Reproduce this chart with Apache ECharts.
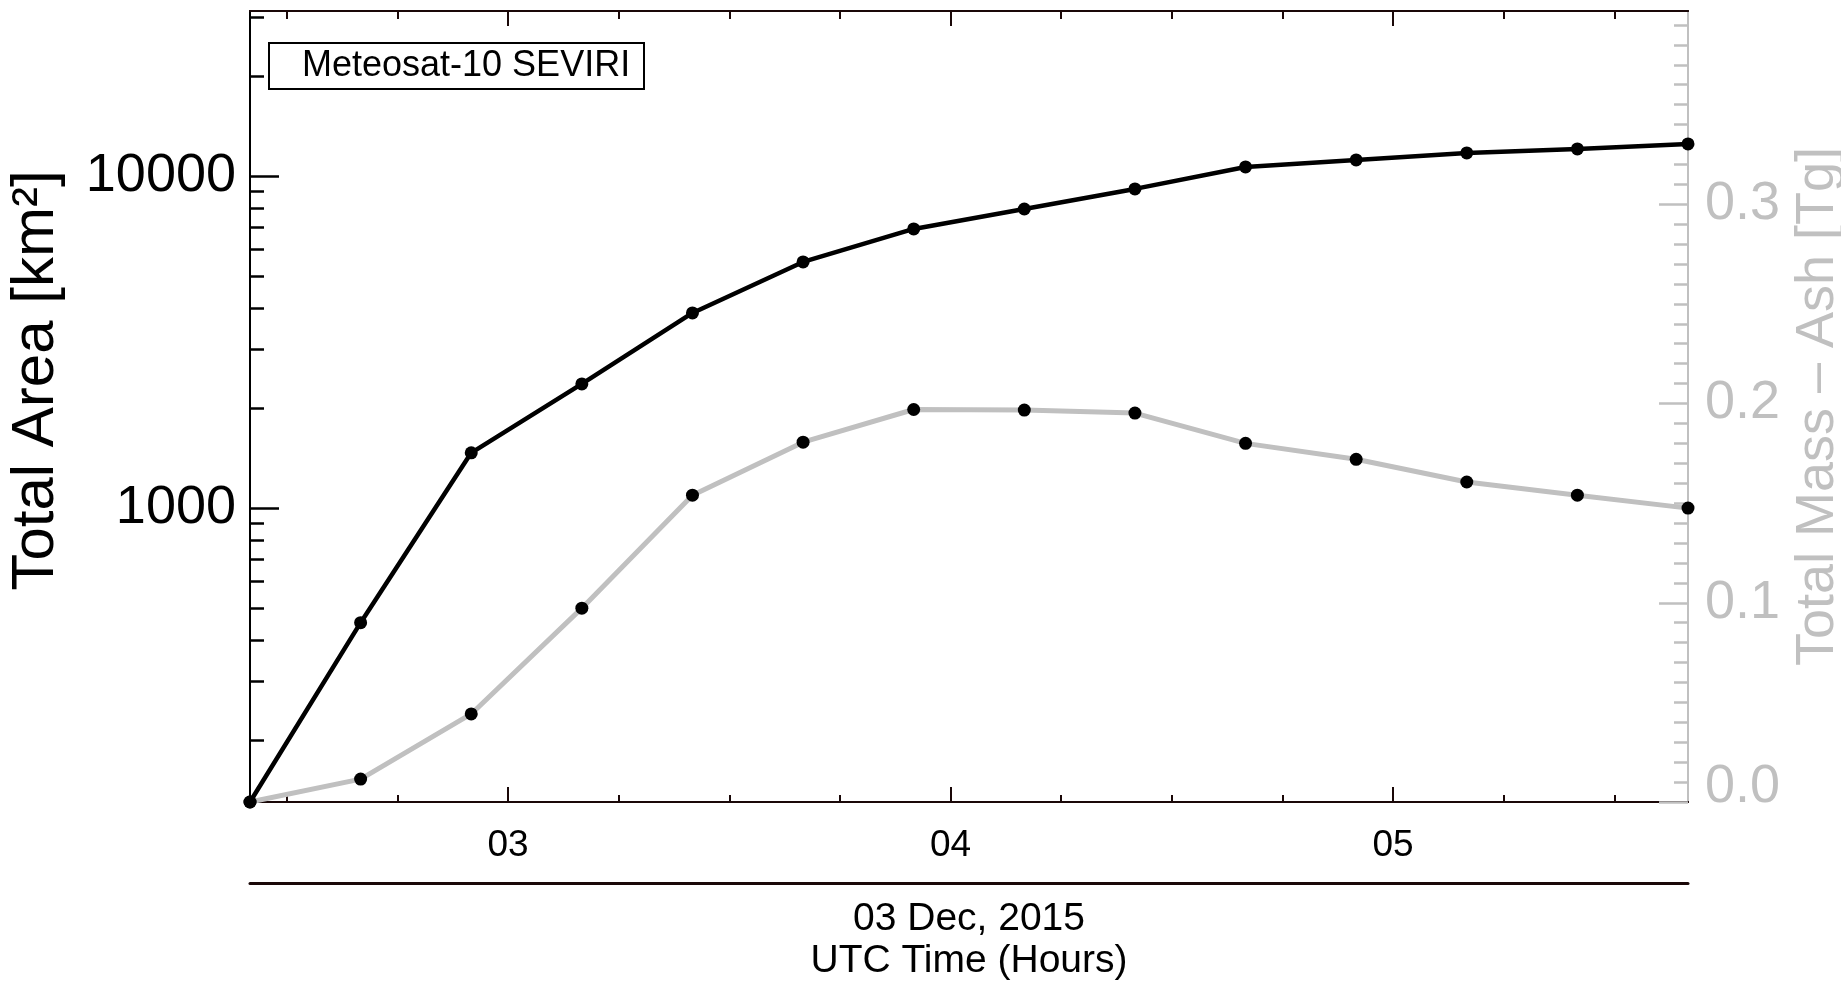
<!DOCTYPE html>
<html>
<head>
<meta charset="utf-8">
<script src="https://cdn.jsdelivr.net/npm/echarts@6/dist/echarts.min.js"></script>
<style>
html,body{margin:0;padding:0;background:#ffffff;}
#chart{width:1841px;height:981px;}
</style>
</head>
<body>
<div id="chart"></div>
<script>
// ---- data ----
const times = ['02:25','02:40','02:55','03:10','03:25','03:40','03:55','04:10','04:25','04:40','04:55','05:10','05:25','05:40'];
const totalArea = [130, 451, 1465, 2363, 3866, 5508, 6924, 7952, 9140, 10644, 11173, 11731, 12059, 12485];
const totalMassAsh = [0.0, 0.0115, 0.0442, 0.0973, 0.154, 0.1806, 0.197, 0.1967, 0.1952, 0.180, 0.172, 0.1606, 0.154, 0.1475];

// ---- tick labels / tick positions ----
const hourTicks = [3, 4, 5];
const hourMinorTicks = [2.5, 2.75, 3.25, 3.5, 3.75, 4.25, 4.5, 4.75, 5.25, 5.5];
const areaTicks = [1000, 10000];
const areaMinorTicks = [200, 300, 400, 500, 600, 700, 800, 900, 2000, 3000, 4000, 5000, 6000, 7000, 8000, 9000, 20000, 30000];
const massTicks = [0.0, 0.1, 0.2, 0.3];
const massMinorTicks = [0.01,0.02,0.03,0.04,0.05,0.06,0.07,0.08,0.09,0.11,0.12,0.13,0.14,0.15,0.16,0.17,0.18,0.19,0.21,0.22,0.23,0.24,0.25,0.26,0.27,0.28,0.29,0.31,0.32,0.33,0.34,0.35,0.36,0.37,0.38,0.39];

const dateLabel = '03 Dec, 2015';
const xTitle = 'UTC Time (Hours)';
const yLeftTitle = 'Total Area [km²]';
const yRightTitle = 'Total Mass – Ash [Tg]';
const legendText = 'Meteosat-10 SEVIRI';

const areaRange = [130, 31400];
const massRange = [0, 0.397];

// ---- helpers ----
const toHours = t => { const p = t.split(':'); return Number(p[0]) + Number(p[1]) / 60; };
const xs = times.map(toHours);
const X_MIN = xs[0], X_MAX = xs[xs.length - 1];
const FONT = 'Liberation Sans';
const AXC = '#1a0808';
const GRAY = '#c0c0c0';

function xAxisBase(extra) {
  return Object.assign({
    type: 'value', gridIndex: 0, min: X_MIN, max: X_MAX,
    axisLine: { show: true, onZero: false, lineStyle: { color: AXC, width: 2 } },
    splitLine: { show: false },
    axisLabel: { show: false },
    axisTick: { show: false }
  }, extra);
}
function tick(values, len, color, width) {
  return { show: true, inside: true, length: len, customValues: values, lineStyle: { color: color, width: width || 2 } };
}

const chart = echarts.init(document.getElementById('chart'), null, { renderer: 'canvas' });

const option = {
  backgroundColor: '#ffffff',
  animation: false,
  textStyle: { fontFamily: FONT },
  title: {
    text: legendText,
    left: 269, top: 43,
    borderColor: '#000', borderWidth: 2,
    backgroundColor: '#fff',
    padding: [5, 14, 5, 33],
    textStyle: { fontFamily: FONT, fontSize: 36, fontWeight: 'normal', color: '#000' }
  },
  grid: { left: 250, top: 11, right: 153, bottom: 179, containLabel: false, outerBoundsMode: 'none' },
  xAxis: [
    xAxisBase({
      position: 'bottom',
      axisTick: tick(hourTicks, 15, AXC, 2),
      axisLabel: {
        show: true, customValues: hourTicks, margin: 25,
        fontFamily: FONT, fontSize: 37, color: '#000',
        formatter: v => String(Math.round(v)).padStart(2, '0')
      }
    }),
    xAxisBase({ position: 'bottom', axisTick: tick(hourMinorTicks, 7, AXC, 2) }),
    xAxisBase({ position: 'top', axisTick: tick(hourTicks, 15, AXC, 2) }),
    xAxisBase({ position: 'top', axisTick: tick(hourMinorTicks, 8, AXC, 2) }),
    xAxisBase({
      position: 'bottom', offset: 81,
      axisLine: { show: true, onZero: false, lineStyle: { color: AXC, width: 3 } },
      name: dateLabel + '\n' + xTitle,
      nameLocation: 'middle', nameGap: 15,
      nameTextStyle: { fontFamily: FONT, fontSize: 39, lineHeight: 42, color: '#000', verticalAlign: 'top' }
    })
  ],
  yAxis: [
    {
      type: 'log', logBase: 10, min: areaRange[0], max: areaRange[1], position: 'left',
      axisLine: { show: true, onZero: false, lineStyle: { color: '#000', width: 2 } },
      axisTick: tick(areaTicks, 29, '#000', 2.5),
      axisLabel: { show: true, customValues: areaTicks, margin: 14, fontFamily: FONT, fontSize: 54, color: '#000',
        formatter: v => String(Math.round(v)) },
      splitLine: { show: false },
      name: yLeftTitle, nameLocation: 'middle', nameRotate: 90, nameGap: 184,
      nameTextStyle: { fontFamily: FONT, fontSize: 60, color: '#000', padding: [0, 0, 0, 52] }
    },
    {
      type: 'log', logBase: 10, min: areaRange[0], max: areaRange[1], position: 'left',
      axisLine: { show: false },
      axisTick: tick(areaMinorTicks, 14, '#000', 2.5),
      axisLabel: { show: false }, splitLine: { show: false }
    },
    {
      type: 'value', min: massRange[0], max: massRange[1], position: 'right',
      axisLine: { show: true, onZero: false, lineStyle: { color: GRAY, width: 2 } },
      axisTick: tick(massTicks, 29, GRAY, 2.5),
      axisLabel: {
        show: true, customValues: massTicks, margin: 17, fontFamily: FONT, fontSize: 54, color: GRAY,
        formatter: v => (Math.abs(v) < 1e-9 ? '{low|0.0}' : v.toFixed(1)),
        rich: { low: { fontFamily: FONT, fontSize: 54, color: GRAY, padding: [0, 0, 30, 0] } }
      },
      splitLine: { show: false },
      name: yRightTitle, nameLocation: 'middle', nameRotate: 90, nameGap: 75,
      nameTextStyle: { fontFamily: FONT, fontSize: 54, color: GRAY }
    },
    {
      type: 'value', min: massRange[0], max: massRange[1], position: 'right',
      axisLine: { show: false },
      axisTick: tick(massMinorTicks, 14, GRAY, 2.5),
      axisLabel: { show: false }, splitLine: { show: false }
    }
  ],
  series: [
    {
      name: 'Total Mass - Ash', type: 'line', xAxisIndex: 0, yAxisIndex: 2,
      data: xs.map((x, i) => [x, totalMassAsh[i]]),
      lineStyle: { color: GRAY, width: 5 },
      itemStyle: { color: '#000' },
      symbol: 'circle', symbolSize: 13, showSymbol: true,
      z: 3
    },
    {
      name: 'Total Area', type: 'line', xAxisIndex: 0, yAxisIndex: 0,
      data: xs.map((x, i) => [x, totalArea[i]]),
      lineStyle: { color: '#000', width: 4.5 },
      itemStyle: { color: '#000' },
      symbol: 'circle', symbolSize: 13, showSymbol: true,
      z: 4
    }
  ]
};
chart.setOption(option);
</script>
</body>
</html>
